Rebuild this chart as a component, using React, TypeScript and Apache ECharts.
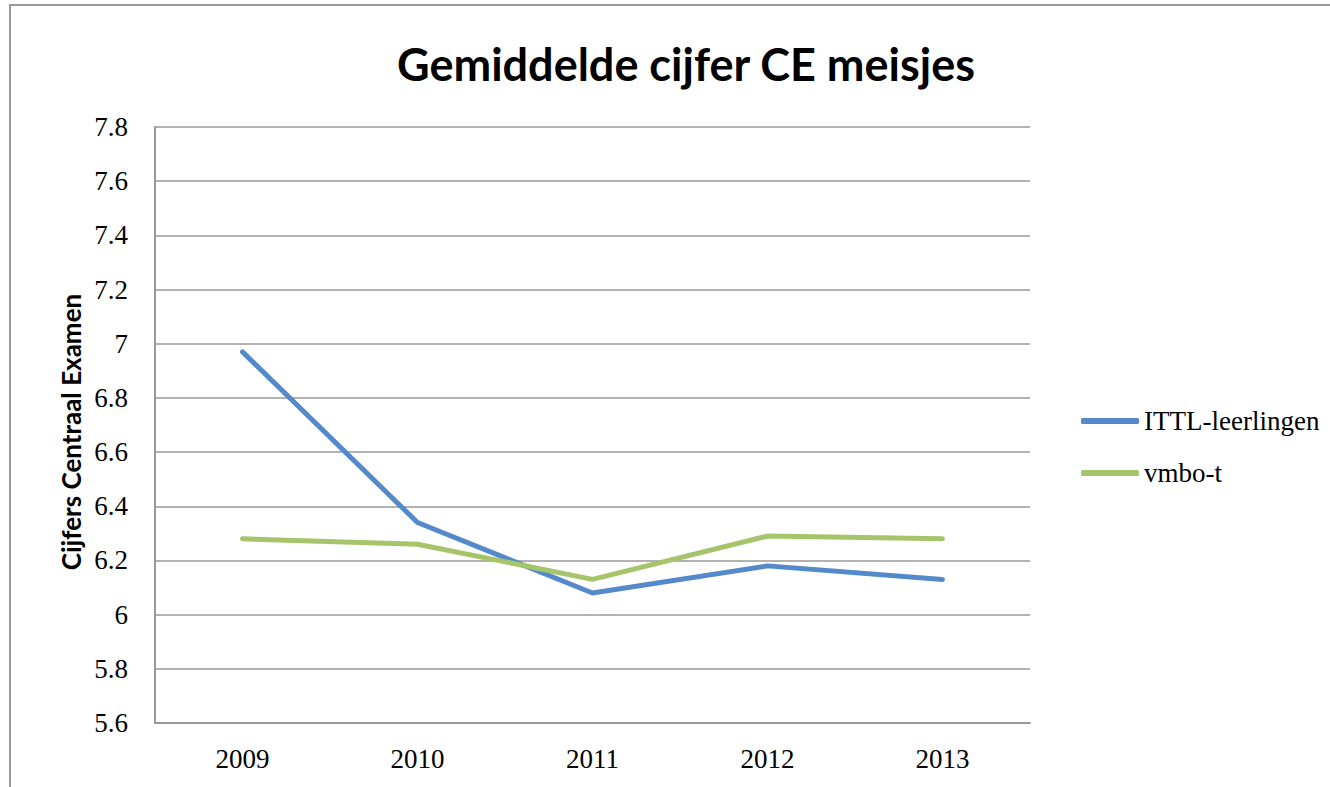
import React, { useEffect, useRef } from "react";
import * as echarts from "echarts";

const years = ["2009", "2010", "2011", "2012", "2013"];
const ittl = [6.97, 6.34, 6.08, 6.18, 6.13];
const vmbo = [6.28, 6.26, 6.13, 6.29, 6.28];
const seriesNames = ["ITTL-leerlingen", "vmbo-t"];
const titleText = "Gemiddelde cijfer CE meisjes";
const yAxisTitle = "Cijfers Centraal Examen";

const SERIF = "'Liberation Serif', 'Times New Roman', serif";
const SANS = "Lato, 'Open Sans', sans-serif";

export default function App() {
  const ref = useRef<HTMLDivElement>(null);
  useEffect(() => {
    if (!ref.current) return;
    const chart = echarts.init(ref.current, undefined, { renderer: "svg" });
    chart.setOption({
      animation: false,
      backgroundColor: "#ffffff",
      title: {
        text: titleText,
        left: 681,
        top: 36,
        textAlign: "center",
        textStyle: { fontFamily: SANS, fontWeight: "bold", fontSize: 45, color: "#000" },
      },
      graphic: [
        {
          type: "rect",
          shape: { x: 10, y: 5, width: 1340, height: 800 },
          style: { fill: "none", stroke: "#999", lineWidth: 2 },
          silent: true,
        },
        {
          type: "text",
          x: 71,
          y: 432,
          rotation: Math.PI / 2,
          style: {
            text: yAxisTitle,
            fontFamily: SANS,
            fontWeight: "bold",
            fontSize: 26,
            fill: "#000",
            align: "center",
            verticalAlign: "middle",
          },
          silent: true,
        },
      ],
      legend: {
        orient: "vertical",
        left: 1076,
        top: 401,
        itemWidth: 58,
        itemHeight: 6,
        itemGap: 22,
        icon: "roundRect",
        textStyle: { fontFamily: SERIF, fontSize: 27, lineHeight: 30, color: "#000" },
        data: seriesNames,
      },
      grid: { left: 155, top: 127, width: 875, height: 596, containLabel: false },
      xAxis: {
        type: "category",
        data: years,
        boundaryGap: true,
        axisLine: { show: true, lineStyle: { color: "#999", width: 2 } },
        axisTick: { show: false },
        axisLabel: { fontFamily: SERIF, fontSize: 27, color: "#000", margin: 22 },
      },
      yAxis: {
        type: "value",
        min: 5.6,
        max: 7.8,
        interval: 0.2,
        axisLine: { show: true, lineStyle: { color: "#999", width: 2 } },
        axisTick: { show: false },
        splitLine: { show: true, lineStyle: { color: "#999", width: 1.5 } },
        axisLabel: {
          fontFamily: SERIF,
          fontSize: 27,
          color: "#000",
          margin: 27,
          formatter: (v: number) => String(Math.round(v * 10) / 10),
        },
      },
      series: [
        {
          name: seriesNames[0],
          type: "line",
          data: ittl,
          showSymbol: false,
          symbol: "none",
          lineStyle: { color: "#558ACA", width: 5, cap: "round", join: "round" },
          itemStyle: { color: "#558ACA" },
        },
        {
          name: seriesNames[1],
          type: "line",
          data: vmbo,
          showSymbol: false,
          symbol: "none",
          lineStyle: { color: "#A6C46A", width: 5, cap: "round", join: "round" },
          itemStyle: { color: "#A6C46A" },
        },
      ],
    });
    return () => chart.dispose();
  }, []);
  return (
    <div
      ref={ref}
      style={{ position: "fixed", left: 0, top: 0, width: 1330, height: 787 }}
    />
  );
}
